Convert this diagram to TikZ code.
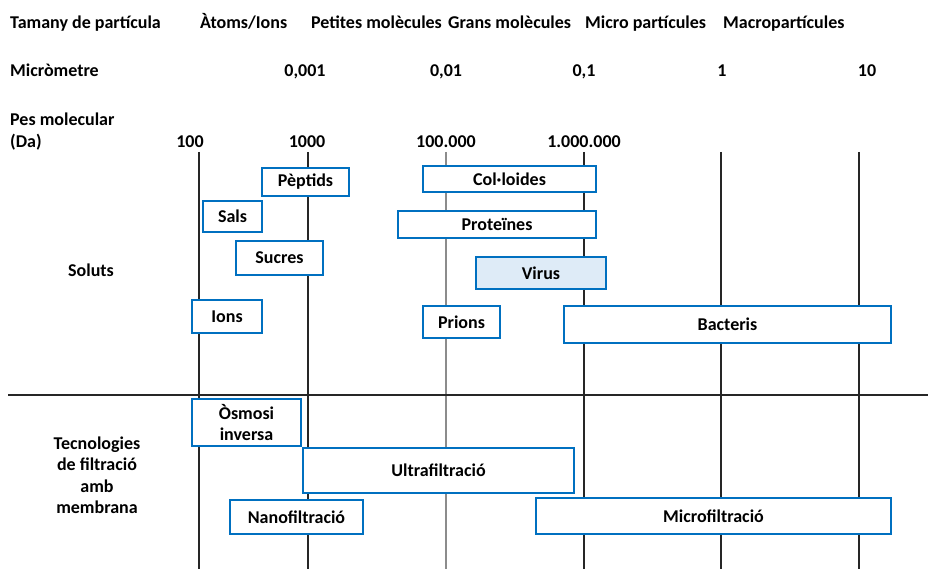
\documentclass[tikz,border=0pt]{standalone}
\usepackage{fontspec}
\setmainfont{Carlito}
\definecolor{vora}{RGB}{0,112,192}
\definecolor{fonsvirus}{RGB}{222,235,247}
\tikzset{>=latex}
\tikzset{
  lletra/.style={font=\bfseries\fontsize{18}{21.5}\selectfont},
  etiqueta/.style={lletra, inner sep=0pt},
  caixa/.style={lletra, draw=vora, line width=2pt, fill=white, inner sep=0pt, align=center},
  eix/.style={line width=2pt, black!85},
}

\begin{document}
\begin{tikzpicture}[x=1pt, y=-1pt]
  \useasboundingbox (0,0) rectangle (928,569);
  % scale lines
  \foreach \X in {199,308,584,721,859} {%
    \draw[eix] (\X,152) -- (\X,569);
  };
  \draw[line width=1.5pt, black!45] (446,152) -- (446,569);
  \draw[eix] (8,395) -- (928,395);
  % header rows
  \node[etiqueta, anchor=base west] (tamany) at (10,29) {Tamany de partícula};
  \node[etiqueta, anchor=base west] (atoms) at (200,29) {Àtoms/Ions};
  \node[etiqueta, anchor=base west] (petites) at (311,29) {Petites molècules};
  \node[etiqueta, anchor=base west] (grans) at (448,29) {Grans molècules};
  \node[etiqueta, anchor=base west] (micropart) at (585,29) {Micro partícules};
  \node[etiqueta, anchor=base west] (macropart) at (723,29) {Macropartícules};
  \node[etiqueta, anchor=base west] (micrometre) at (10,77) {Micròmetre};
  \foreach \X/\T in {305/{0,001},446/{0,01},584/{0,1},722/1,867/10} {%
    \node[etiqueta, anchor=base] at (\X,77) {\T};
  };
  \node[etiqueta, anchor=base west] (pes) at (10,126) {Pes molecular};
  \node[etiqueta, anchor=base west] (da) at (10,148) {(Da)};
  \foreach \X/\T in {190/100,307/1000,446/100.000,584/1.000.000} {%
    \node[etiqueta, anchor=base] at (\X,148) {\T};
  };
  % soluts
  \node[etiqueta] (soluts) at (91,270) {Soluts};
  \node[caixa, minimum width=87, minimum height=28] (peptids) at (305.5,182) {Pèptids};
  \node[caixa, minimum width=59, minimum height=31] (sals) at (232.5,216.5) {Sals};
  \node[caixa, minimum width=87, minimum height=34] (sucres) at (279.5,258) {Sucres};
  \node[caixa, minimum width=70, minimum height=33] (ions) at (227,316.5) {Ions};
  \node[caixa, minimum width=173, minimum height=26] (colloides) at (509.5,179) {Col·loides};
  \node[caixa, minimum width=198, minimum height=27] (proteines) at (497,224.5) {Proteïnes};
  \node[caixa, fill=fonsvirus, minimum width=130, minimum height=32] (virus) at (541,273) {Virus};
  \node[caixa, minimum width=77, minimum height=32] (prions) at (461.5,322) {Prions};
  \node[caixa, minimum width=327, minimum height=37] (bacteris) at (727.5,324.5) {Bacteris};
  % membranes
  \node[etiqueta, align=center] (tecnologies) at (97,475) {Tecnologies\\de filtració\\amb\\membrana};
  \node[caixa, minimum width=109, minimum height=47] (osmosi) at (246.5,422.5) {Òsmosi\\inversa};
  \node[caixa, minimum width=271, minimum height=45] (ultra) at (438.5,470.5) {Ultrafiltració};
  \node[caixa, minimum width=133, minimum height=34] (nano) at (296.5,517) {Nanofiltració};
  \node[caixa, minimum width=355, minimum height=36] (micro) at (713.5,516) {Microfiltració};
\end{tikzpicture}
\end{document}
